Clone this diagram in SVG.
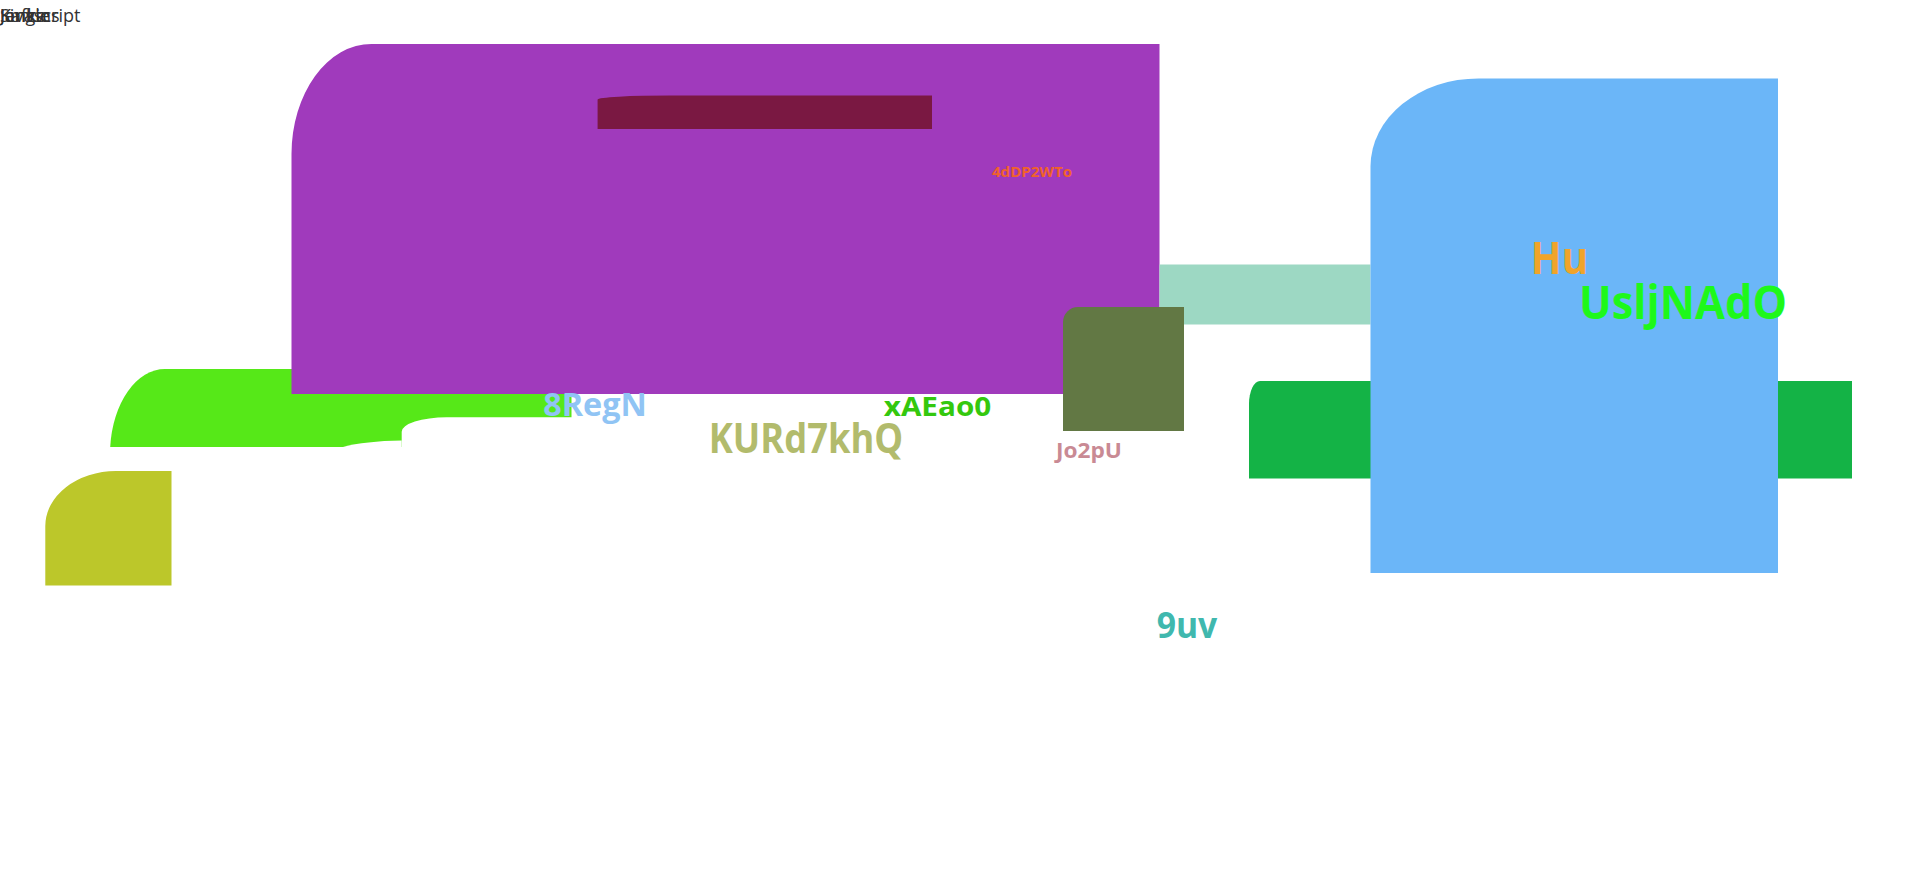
<svg xmlns="http://www.w3.org/2000/svg" width="1920" height="870" viewBox="0 0 1920 870">
<style>
.lbl{font-family:"Open Sans","Noto Sans","Liberation Sans",sans-serif;font-weight:700;text-anchor:middle}
.top{font-family:"Open Sans","Noto Sans","Liberation Sans",sans-serif;font-size:18px;fill:#333333}
</style>
<rect width="1920" height="870" fill="#ffffff"/>
<g id="connectors"></g>
<g id="n-lime"><path d="M110.2,447 A55,85 0 0 1 165,369 L571.5,369 L571.5,447 Z" fill="#56e818"/></g>
<g id="n-white1"><path d="M401.7,470 L401.7,431.7 A45,14.4 0 0 1 446.7,417.3 L600,417.3 L600,470 Z" fill="#ffffff"/></g>
<g id="n-white2"><path d="M343,447 Q365,441 401.7,440.5 L401.7,470 L343,470 Z" fill="#ffffff"/></g>
<g id="n-purple"><path d="M291.5,394 L291.5,154 A80,110 0 0 1 371.5,44 L1159.5,44 L1159.5,394 Z" fill="#a03abc"/></g>
<g id="n-maroon"><path d="M597.6,129 L597.6,99.5 A73,4 0 0 1 670.6,95.5 L932,95.5 L932,129 Z" fill="#7a1842"/></g>
<g id="n-teal"><rect x="1159.5" y="264.5" width="211" height="60" fill="#9dd8c3"/></g>
<g id="n-green"><path d="M1249,478.6 L1249,404 A11,23 0 0 1 1260,381 L1852,381 L1852,478.6 Z" fill="#14b346"/></g>
<g id="n-blue"><path d="M1370.5,573 L1370.5,166 A108,88 0 0 1 1478.5,78.4 L1778,78.4 L1778,573 Z" fill="#6bb6f8"/></g>
<g id="n-olive"><path d="M1063,431 L1063,322 A15,15 0 0 1 1078,307 L1184,307 L1184,431 Z" fill="#627844"/></g>
<g id="n-yellow"><path d="M45.3,585.5 L45.3,526 A71,55 0 0 1 116,471 L171.5,471 L171.5,585.5 Z" fill="#bcc72a"/></g>
<g id="labels">
<text class="lbl" x="1032" y="176.7" font-size="15" fill="#f0622a" textLength="80" lengthAdjust="spacingAndGlyphs">4dDP2WTo</text>
<text class="lbl" x="595" y="415.7" font-size="32" fill="#90c4f4" textLength="103.5" lengthAdjust="spacingAndGlyphs">8RegN</text>
<text class="lbl" x="937.5" y="415.7" font-size="27" fill="#34c80e" textLength="107.5" lengthAdjust="spacingAndGlyphs">xAEao0</text>
<text class="lbl" x="806" y="452.7" font-size="41" fill="#b2bb6c" textLength="194.5" lengthAdjust="spacingAndGlyphs">KURd7khQ</text>
<text class="lbl" x="1089" y="458.3" font-size="22" fill="#c98a94" textLength="66" lengthAdjust="spacingAndGlyphs">Jo2pU</text>
<text class="lbl" x="1559.5" y="274" font-size="45" fill="#f0a42a" textLength="57.3" lengthAdjust="spacingAndGlyphs">Hu</text>
<text class="lbl" x="1683" y="319.3" font-size="47" fill="#1ef81a" textLength="208" lengthAdjust="spacingAndGlyphs">UsljNAdO</text>
<text class="lbl" x="1187" y="638.3" font-size="35" fill="#40b8ae" textLength="60.6" lengthAdjust="spacingAndGlyphs">9uv</text>
</g>
<g id="top-texts">
<text class="top" x="0" y="22">Javascript</text>
<text class="top" x="0" y="22">Single</text>
<text class="top" x="0" y="22">Kafka</text>
<text class="top" x="0" y="22">Jenkins</text>
</g>
</svg>
